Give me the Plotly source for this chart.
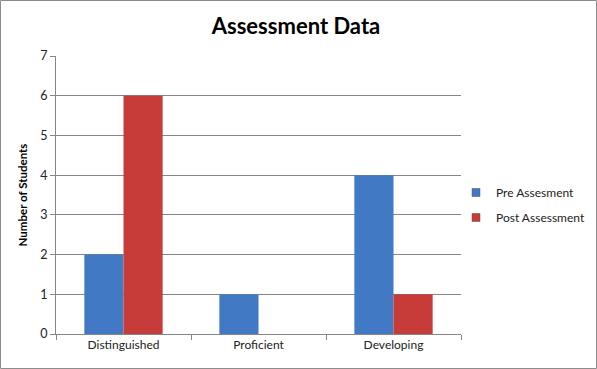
import plotly.graph_objects as go

categories = ["Distinguished", "Proficient", "Developing"]
pre_values = [2, 1, 4]
post_values = [6, 0, 1]
series_names = ["Pre Assesment", "Post Assessment"]
y_ticks = [0, 1, 2, 3, 4, 5, 6, 7]

W, H = 597, 369
L, R, T, B = 56, 136, 56, 35
pw, ph = W - L - R, H - T - B

FONT = "Lato, 'Open Sans', sans-serif"
blue = "#4279c5"
red = "#c73c39"

fig = go.Figure()
fig.add_trace(go.Bar(x=categories, y=pre_values, name=series_names[0],
                     marker=dict(color=blue, line=dict(width=0)),
                     showlegend=False, hoverinfo="skip"))
fig.add_trace(go.Bar(x=categories, y=post_values, name=series_names[1],
                     marker=dict(color=red, line=dict(width=0)),
                     showlegend=False, hoverinfo="skip"))
# legend entries with small square swatches
for nm, col, grp in [(series_names[0], blue, "a"), (series_names[1], red, "b")]:
    fig.add_trace(go.Scatter(x=[None], y=[None], mode="markers", name=nm,
                             legendgroup=grp,
                             marker=dict(symbol="square", size=8, color=col,
                                         line=dict(color="#555555", width=0.5))))

fig.update_layout(
    width=W, height=H,
    margin=dict(l=L, r=R, t=T, b=B, autoexpand=False),
    paper_bgcolor="white", plot_bgcolor="white",
    barmode="group", bargap=0.42, bargroupgap=0,
    title=dict(text="<b>Assessment Data</b>", x=(296 - L) / pw, xref="paper",
               xanchor="center", y=1 - 26 / H, yanchor="middle",
               font=dict(family=FONT, size=22, color="black")),
    font=dict(family=FONT, size=12, color="#222222"),
    legend=dict(x=(456 - L) / pw, xanchor="left", y=(334 - 205) / ph,
                yanchor="middle", font=dict(family=FONT, size=12, color="#222222"),
                traceorder="grouped", tracegroupgap=6, itemwidth=30,
                bgcolor="rgba(0,0,0,0)"),
    showlegend=True,
    hovermode=False,
)
fig.update_xaxes(type="category", tickson="boundaries", ticks="outside", ticklen=5,
                 tickcolor="#868686", showline=True, linecolor="#868686", linewidth=1,
                 showgrid=False, automargin=False,
                 tickfont=dict(family=FONT, size=12, color="#222222"))
fig.update_yaxes(range=[0, 7], tickvals=y_ticks, ticks="outside", ticklen=5,
                 tickcolor="#868686", showline=True, linecolor="#868686", linewidth=1,
                 showgrid=True, gridcolor="#868686", gridwidth=1, zeroline=False,
                 automargin=False,
                 tickfont=dict(family=FONT, size=12.5, color="#222222"),
                 title=dict(text="<b>Number of Students</b>", standoff=10,
                            font=dict(family=FONT, size=11.5, color="black")))
fig.add_shape(type="rect", xref="paper", yref="paper",
              x0=-(L - 0.5) / pw, x1=1 + (R - 0.5) / pw,
              y0=-(B - 0.5) / ph, y1=1 + (T - 0.5) / ph,
              line=dict(color="#8c8c8c", width=1), layer="above")

fig.write_html("out.html", config={"displayModeBar": False},
               post_script="document.body.style.margin='0';document.body.style.overflow='hidden';")
